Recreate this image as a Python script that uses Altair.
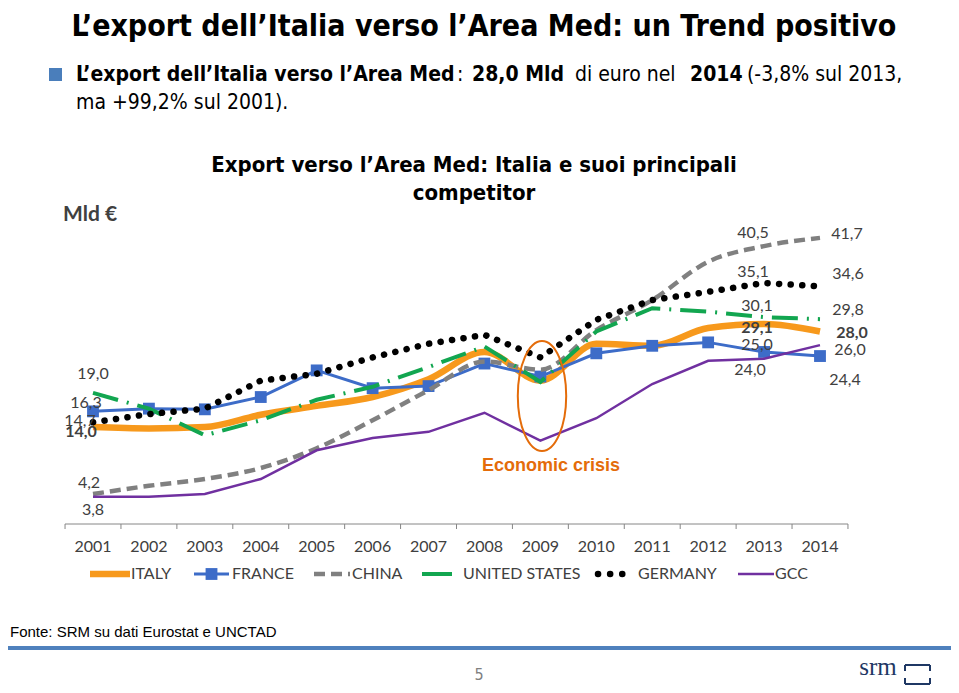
import altair as alt
import pandas as pd

# ---------------- data ----------------
years = list(range(2001, 2015))
italy = [14.0, 13.8, 14.0, 15.8, 17.1, 18.4, 21.0, 25.0, 20.8, 26.2, 25.9, 28.5, 29.1, 28.0]
france = [16.3, 16.7, 16.6, 18.4, 22.3, 19.7, 20.0, 23.3, 21.4, 24.8, 25.9, 26.4, 25.0, 24.4]
china = [4.2, 5.4, 6.4, 8.0, 10.9, 15.0, 19.4, 23.6, 22.4, 28.2, 32.6, 38.2, 40.5, 41.7]
united_states = [19.0, 16.7, 12.8, 15.0, 18.0, 19.9, 22.8, 25.8, 20.6, 28.0, 31.4, 30.9, 30.1, 29.8]
germany = [14.7, 15.9, 16.7, 20.8, 21.8, 24.2, 26.2, 27.5, 24.2, 29.7, 32.6, 33.8, 35.1, 34.6]
gcc = [3.8, 3.8, 4.2, 6.4, 10.6, 12.4, 13.3, 16.1, 12.0, 15.3, 20.3, 23.7, 24.0, 26.0]

series_names = ["ITALY", "FRANCE", "CHINA", "UNITED STATES", "GERMANY", "GCC"]
series_values = [italy, france, china, united_states, germany, gcc]

title_text = "L\u2019export dell\u2019Italia verso l\u2019Area Med: un Trend positivo"
chart_title = ["Export verso l\u2019Area Med: Italia e suoi principali", "competitor"]
unit_text = "Mld \u20ac"
crisis_text = "Economic crisis"
source_text = "Fonte: SRM su dati Eurostat e UNCTAD"
page_number = "5"

# ---------------- styles ----------------
OFF = 8  # page margin
NARROW = "Liberation Sans Narrow, Arial Narrow, DejaVu Sans Condensed, sans-serif"
ARIAL = "Liberation Sans, Arial, sans-serif"
CAL = "Lato, Open Sans, sans-serif"
LABEL_COL = "#404040"

styles = {
    "ITALY": dict(color="#F7991C", strokeWidth=6.5, interpolate="monotone"),
    "FRANCE": dict(color="#3D6CC8", strokeWidth=3),
    "CHINA": dict(color="#808080", strokeWidth=4.5, strokeDash=[11, 6], interpolate="monotone"),
    "UNITED STATES": dict(color="#12A650", strokeWidth=4, strokeDash=[26, 9, 2, 9]),
    "GERMANY": dict(color="#000000", strokeWidth=6.5, strokeDash=[0.1, 11.5], strokeCap="round"),
    "GCC": dict(color="#7030A0", strokeWidth=2.5),
}

xs = alt.Scale(domain=[2001, 2014], range=[85, 812])
ys = alt.Scale(domain=[0, 45], range=[514.7, 207.35], zero=False, nice=False)

rows = []
for name, vals in zip(series_names, series_values):
    for yr, v in zip(years, vals):
        rows.append({"series": name, "year": yr, "value": v})
df = pd.DataFrame(rows)

layers = []


def txt(s, x, y, size, weight="normal", color="black", font=NARROW, align="left", baseline="middle"):
    return alt.Chart(pd.DataFrame({"t": [s]})).mark_text(
        align=align, baseline=baseline, fontSize=size, fontWeight=weight,
        color=color, font=font
    ).encode(x=alt.value(x - OFF), y=alt.value(y - OFF), text="t:N")


# axis line and ticks
axis_df = pd.DataFrame({"a": [years[0] - 0.5], "b": [years[-1] + 0.5]})
layers.append(alt.Chart(axis_df).mark_rule(color="#868686", strokeWidth=1).encode(
    x=alt.X("a:Q", scale=xs, axis=None), x2="b:Q", y=alt.value(524 - OFF)))
tick_df = pd.DataFrame({"b": [y - 0.5 for y in years] + [years[-1] + 0.5]})
layers.append(alt.Chart(tick_df).mark_rule(color="#868686", strokeWidth=1).encode(
    x=alt.X("b:Q", scale=xs, axis=None), y=alt.value(524 - OFF), y2=alt.value(529 - OFF)))

# year labels
year_df = pd.DataFrame({"year": years, "lab": [str(y) for y in years]})
layers.append(alt.Chart(year_df).mark_text(fontSize=16, font=CAL, color=LABEL_COL, baseline="middle").encode(
    x=alt.X("year:Q", scale=xs, axis=None), y=alt.value(547 - OFF), text="lab:N"))

# series lines
for name in series_names:
    st = dict(styles[name])
    layers.append(alt.Chart(df).transform_filter(alt.datum.series == name).mark_line(**st).encode(
        x=alt.X("year:Q", scale=xs, axis=None),
        y=alt.Y("value:Q", scale=ys, axis=None),
        order="year:Q"))
    if name == "FRANCE":
        layers.append(alt.Chart(df).transform_filter(alt.datum.series == name).mark_point(
            shape="square", filled=True, size=140, color=st["color"], opacity=1).encode(
            x=alt.X("year:Q", scale=xs, axis=None),
            y=alt.Y("value:Q", scale=ys, axis=None)))

# data labels (offsets are style)
label_offsets = {
    2001: {"UNITED STATES": (0, -19), "FRANCE": (-7, -8), "GERMANY": (-13, -1),
           "ITALY": (-12, 5), "CHINA": (-4, -11), "GCC": (0, 13)},
    2013: {"CHINA": (-11, -13), "GERMANY": (-11, -11), "UNITED STATES": (-7, -11),
           "ITALY": (-7, 4), "FRANCE": (-7, -7), "GCC": (-14, 11)},
    2014: {"CHINA": (27, -4), "GERMANY": (28, -12), "UNITED STATES": (28, -9),
           "ITALY": (32, 2), "GCC": (30, 5), "FRANCE": (25, 24)},
}
for yr, offs in label_offsets.items():
    for name, (dx, dy) in offs.items():
        v = series_values[series_names.index(name)][years.index(yr)]
        ldf = pd.DataFrame({"year": [yr], "value": [v], "lab": [f"{v:.1f}".replace(".", ",")]})
        layers.append(alt.Chart(ldf).mark_text(
            fontSize=16, font=CAL, color=LABEL_COL, dx=dx, dy=dy,
            fontWeight="bold" if name == "ITALY" else "normal", baseline="middle").encode(
            x=alt.X("year:Q", scale=xs, axis=None),
            y=alt.Y("value:Q", scale=ys, axis=None), text="lab:N"))

# crisis ellipse
ell = "M 0 -1 A 0.44 1 0 1 1 0 1 A 0.44 1 0 1 1 0 -1 Z"
layers.append(alt.Chart(pd.DataFrame({"a": [0]})).mark_point(
    shape=ell, size=12100, filled=False, color="#E46C0A", strokeWidth=2, opacity=1).encode(
    x=alt.value(542 - OFF), y=alt.value(396 - OFF)))
layers.append(txt(crisis_text, 551, 466, 18, weight="bold", color="#E46C0A", font=ARIAL, align="center"))

# legend
leg_y = 574
legend_items = [
    ("ITALY", 90, 130, 131),
    ("FRANCE", 194, 229, 232),
    ("CHINA", 314, 350, 352),
    ("UNITED STATES", 422, 452, 463),
    ("GERMANY", 598, 630, 638),
    ("GCC", 738, 774, 775),
]
for name, x1, x2, tx in legend_items:
    st = dict(styles[name])
    st.pop("interpolate", None)
    if name == "UNITED STATES":
        st.pop("strokeDash", None)
    if name == "GERMANY":
        st["strokeDash"] = [0.1, 12]
    color = st.pop("color")
    layers.append(alt.Chart(pd.DataFrame({"a": [0]})).mark_rule(color=color, **st).encode(
        x=alt.value(x1 - OFF), x2=alt.value(x2 - OFF), y=alt.value(leg_y - OFF)))
    if name == "FRANCE":
        layers.append(alt.Chart(pd.DataFrame({"a": [0]})).mark_point(
            shape="square", filled=True, size=140, color=color, opacity=1).encode(
            x=alt.value((x1 + x2) / 2 - OFF), y=alt.value(leg_y - OFF)))
    layers.append(txt(name, tx, leg_y, 16, color=LABEL_COL, font=CAL))

# titles and texts
layers.append(txt(title_text, 484, 27, 30, weight="bold", align="center"))
layers.append(alt.Chart(pd.DataFrame({"a": [0]})).mark_rect(color="#4A7EBB").encode(
    x=alt.value(49 - OFF), x2=alt.value(62 - OFF), y=alt.value(68 - OFF), y2=alt.value(81 - OFF)))
segments = [
    ("L\u2019export dell\u2019Italia verso l\u2019Area Med", 76, "bold"),
    (":", 457, "normal"),
    ("28,0 Mld", 472, "bold"),
    ("di euro nel", 575, "normal"),
    ("2014", 690, "bold"),
    ("(-3,8% sul 2013,", 747, "normal"),
]
for s, x, w in segments:
    layers.append(txt(s, x, 75, 21, weight=w))
layers.append(txt("ma +99,2% sul 2001).", 76, 103, 21))
layers.append(txt(chart_title[0], 474, 165, 22, weight="bold", align="center"))
layers.append(txt(chart_title[1], 474, 193, 22, weight="bold", align="center"))
layers.append(txt(unit_text, 63, 215, 21, weight="bold", color=LABEL_COL, font=CAL))

# footer
layers.append(txt(source_text, 10, 632, 15, font=ARIAL))
layers.append(alt.Chart(pd.DataFrame({"a": [0]})).mark_rule(color="#4F81BD", strokeWidth=4).encode(
    x=alt.value(0), x2=alt.value(943), y=alt.value(648 - OFF)))
layers.append(txt(page_number, 479, 675, 16, color="#808080", font=NARROW, align="center"))
layers.append(txt("srm", 878, 667, 25, color="#1F3864", font="Liberation Serif, DejaVu Serif, serif", align="center"))
logo_segments = [
    (905, 930, 665, 665), (905, 905, 665, 671), (930, 930, 665, 671),
    (905, 905, 678, 684), (930, 930, 678, 684), (905, 930, 684, 684),
]
for x1, x2, y1, y2 in logo_segments:
    layers.append(alt.Chart(pd.DataFrame({"a": [0]})).mark_rule(color="#1F3864", strokeWidth=2).encode(
        x=alt.value(x1 - OFF), x2=alt.value(x2 - OFF), y=alt.value(y1 - OFF), y2=alt.value(y2 - OFF)))

chart = alt.layer(*layers).properties(
    width=943, height=677, padding=0, autosize=alt.AutoSizeParams(type="none"), background="white"
).configure_view(stroke=None)

chart.save("out.html", embed_options={"renderer": "svg", "actions": False})
